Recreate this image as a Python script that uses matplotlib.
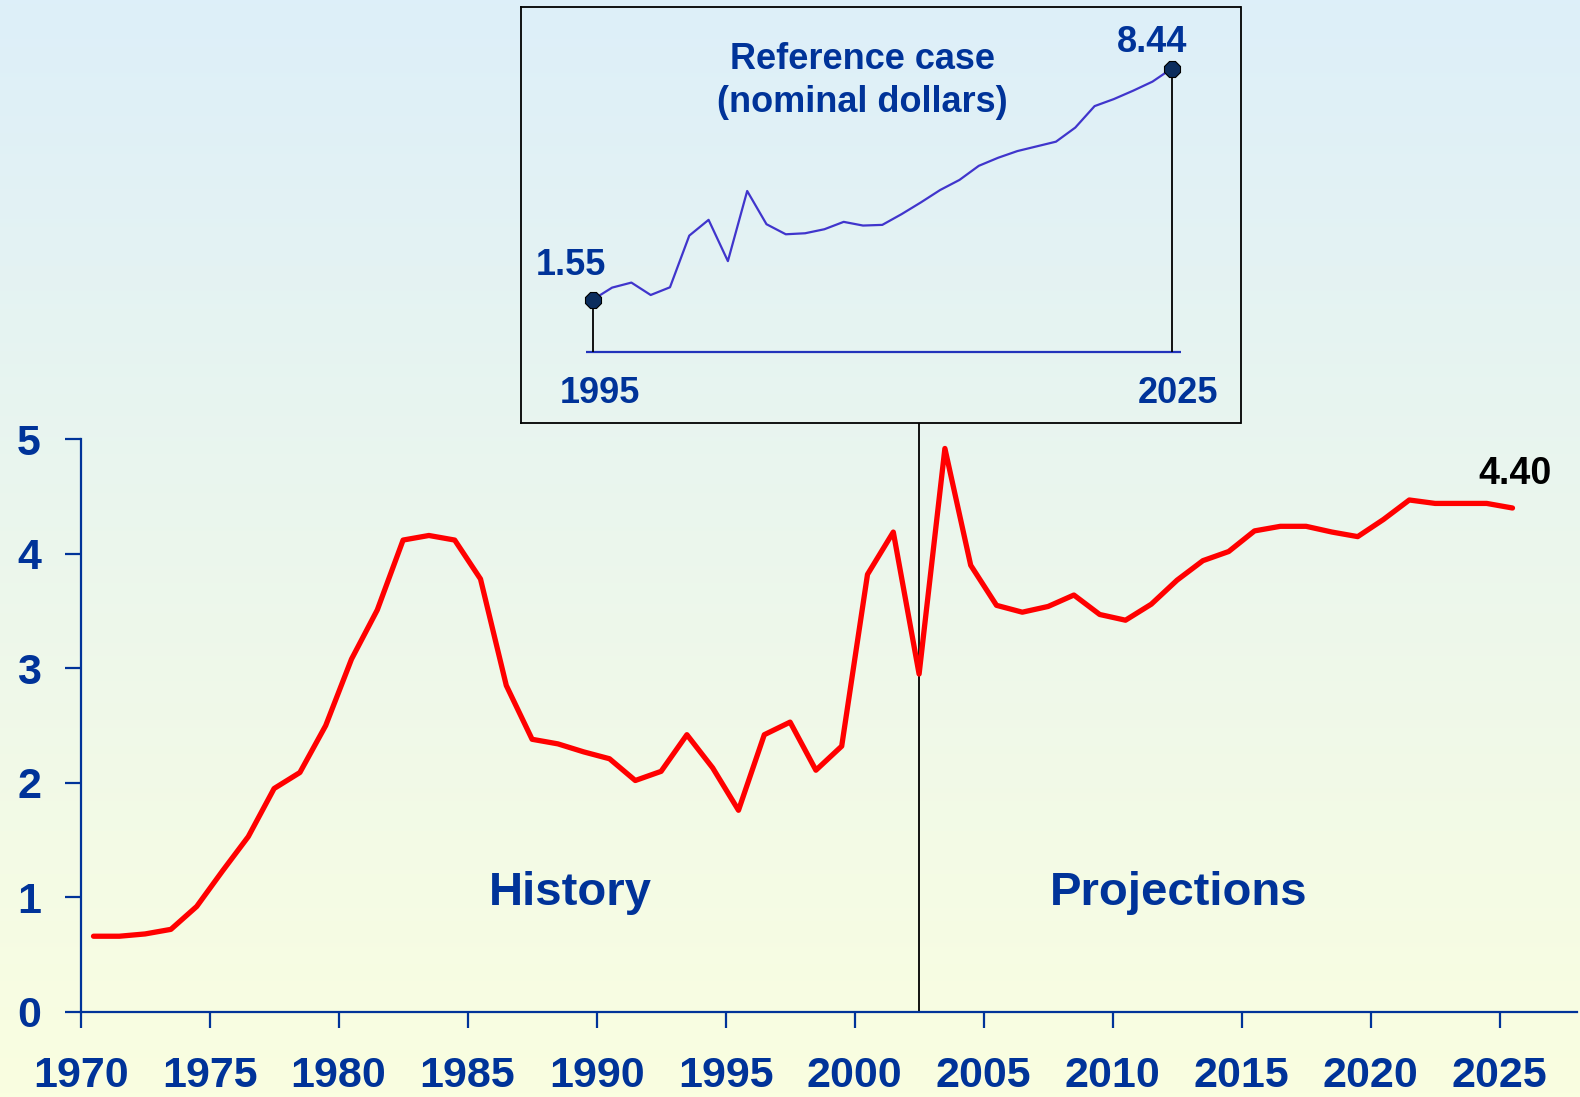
import numpy as np
import matplotlib
matplotlib.use("Agg")
import matplotlib.pyplot as plt

# main chart: price per year (real dollars), history to 2002, projections after
years = list(range(1970, 2026))
price_real = [0.66, 0.66, 0.68, 0.72, 0.92, 1.23, 1.53, 1.95, 2.09, 2.50,
              3.08, 3.51, 4.12, 4.16, 4.12, 3.78, 2.85, 2.38, 2.34, 2.27,
              2.21, 2.02, 2.10, 2.42, 2.13, 1.76, 2.42, 2.53, 2.11, 2.32,
              3.82, 4.19, 2.95, 4.92, 3.90, 3.55, 3.49, 3.54, 3.64, 3.47,
              3.42, 3.56, 3.77, 3.94, 4.02, 4.20, 4.24, 4.24, 4.19, 4.15,
              4.30, 4.47, 4.44, 4.44, 4.44, 4.40]
last_history_year = 2002

# inset: reference case in nominal dollars
inset_years = list(range(1995, 2026))
price_nominal = [1.55, 1.91, 2.06, 1.69, 1.92, 3.46, 3.93, 2.70, 4.79, 3.80,
                 3.50, 3.53, 3.65, 3.87, 3.76, 3.78, 4.10, 4.45, 4.82, 5.12,
                 5.54, 5.78, 5.98, 6.12, 6.26, 6.68, 7.32, 7.53, 7.78, 8.05,
                 8.44]

x_tick_years = [1970, 1975, 1980, 1985, 1990, 1995, 2000, 2005, 2010, 2015, 2020, 2025]
y_ticks = [0, 1, 2, 3, 4, 5]

BLUE = "#003399"
FONT = "Liberation Sans"

W, H = 1580, 1097
fig = plt.figure(figsize=(W / 100, H / 100), dpi=100)

# background gradient, light blue on top to pale yellow at the bottom
bg = fig.add_axes([0, 0, 1, 1], zorder=-10)
top = np.array([221, 239, 249]) / 255
bottom = np.array([250, 254, 224]) / 255
t = np.linspace(0, 1, 256)[:, None]
grad = (top * (1 - t) + bottom * t)[:, None, :]
bg.imshow(grad, aspect="auto", extent=[0, 1, 0, 1])
bg.axis("off")

# main axes
ax = fig.add_axes([80.6 / W, 1 - 1011.8 / H, (1577 - 80.6) / W, 572.5 / H])
ax.set_facecolor("none")
ax.plot([y + 0.5 for y in years], price_real, color="#FF0000", lw=3.8,
        solid_joinstyle="round", solid_capstyle="round", zorder=3)
ax.set_xlim(1970, 2028)
ax.set_ylim(0, 5)
ax.set_xticks(x_tick_years)
ax.set_yticks(y_ticks)
for s in ["top", "right"]:
    ax.spines[s].set_visible(False)
for s in ["left", "bottom"]:
    ax.spines[s].set_color(BLUE)
    ax.spines[s].set_linewidth(1.6)
ax.tick_params(axis="both", direction="out", length=11.5, width=1.6, color=BLUE,
               labelcolor=BLUE, labelsize=31)
ax.tick_params(axis="x", pad=20)
ax.tick_params(axis="y", pad=17)
for lab in ax.get_xticklabels() + ax.get_yticklabels():
    lab.set_fontweight("bold")
    lab.set_family(FONT)

# divider between history and projections, runs up to the inset box
ax.vlines(last_history_year + 0.5, 0, 5.14, color="black", lw=1.3,
          clip_on=False, zorder=2)

ax.text(1989.0, 1.04, "History", color=BLUE, fontsize=34, fontweight="bold",
        family=FONT, ha="center", va="center")
ax.text(2012.56, 1.04, "Projections", color=BLUE, fontsize=34, fontweight="bold",
        family=FONT, ha="center", va="center")
ax.text(years[-1] + 0.6, 4.70, f"{price_real[-1]:.2f}", color="black", fontsize=27,
        fontweight="bold", family=FONT, ha="center", va="center")

# inset box
inset = fig.add_axes([520.6 / W, 1 - 423.3 / H, 719.9 / W, 416 / H])
inset.set_facecolor("none")
for s in inset.spines.values():
    s.set_color("black")
    s.set_linewidth(1.3)
inset.set_xticks([])
inset.set_yticks([])
inset.set_xlim(1991.26, 2028.56)
inset.set_ylim(-2.134, 10.265)

inset.hlines(0, inset_years[0] - 0.35, inset_years[-1] + 0.5, color="#2233BB", lw=1.6)
inset.vlines([inset_years[0], inset_years[-1]], 0,
             [price_nominal[0], price_nominal[-1]], color="black", lw=1.3)
inset.plot(inset_years, price_nominal, color="#4035CC", lw=1.6, zorder=3)
inset.plot([inset_years[0], inset_years[-1]], [price_nominal[0], price_nominal[-1]],
           ls="none", marker="8", ms=12, color="#0B2D5E", mec="black", mew=0.8, zorder=4)

txt = dict(color=BLUE, fontsize=26, fontweight="bold", family=FONT, ha="center", va="center")
inset.text(2008.98, 8.72, "Reference case", **txt)
inset.text(2008.98, 7.43, "(nominal dollars)", **txt)
inset.text(inset_years[-1] - 1.0, 9.22, f"{price_nominal[-1]:.2f}", **txt)
inset.text(inset_years[0] - 1.13, 2.58, f"{price_nominal[0]:.2f}", **txt)
inset.text(inset_years[0] + 0.37, -1.25, str(inset_years[0]), **txt)
inset.text(inset_years[-1] + 0.33, -1.25, str(inset_years[-1]), **txt)

fig.savefig("out.png", dpi=100)
